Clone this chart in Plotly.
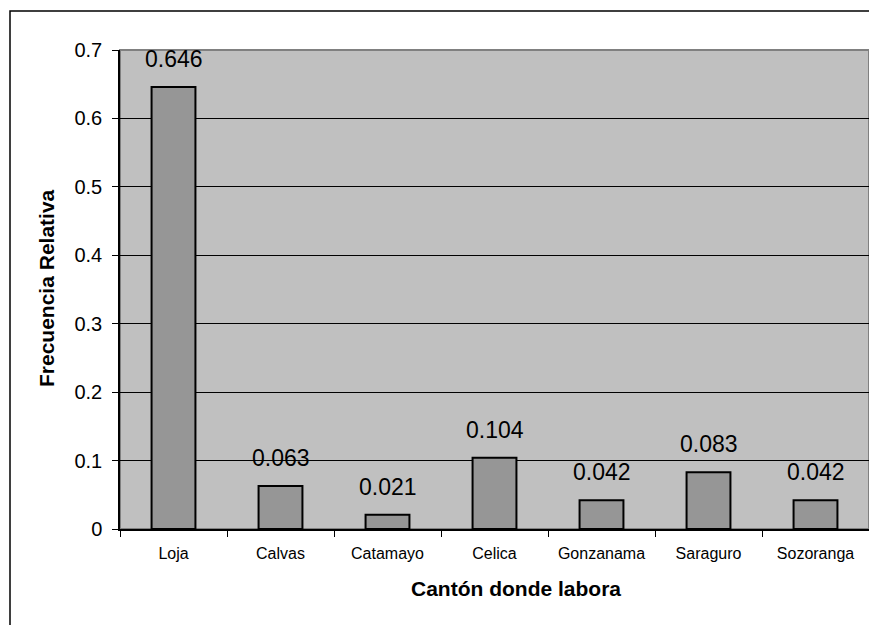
import plotly.graph_objects as go

categories = ["Loja", "Calvas", "Catamayo", "Celica", "Gonzanama", "Saraguro", "Sozoranga"]
values = [0.646, 0.063, 0.021, 0.104, 0.042, 0.083, 0.042]
value_labels = ["0.646", "0.063", "0.021", "0.104", "0.042", "0.083", "0.042"]
y_ticks = [0, 0.1, 0.2, 0.3, 0.4, 0.5, 0.6, 0.7]
y_tick_text = ["0", "0.1", "0.2", "0.3", "0.4", "0.5", "0.6", "0.7"]

FONT = "Liberation Sans, Arial, sans-serif"

# page is offset by the 8px body margin; figure geometry compensates
W, H = 869, 617
L, R, T, B = 112, 8, 42, 96
PW, PH = W - L - R, H - T - B

def px(x):  # figure pixel x -> paper
    return (x - L) / PW

def py(y):  # figure pixel y -> paper
    return (H - B - y) / PH

fig = go.Figure()
fig.add_trace(go.Bar(
    x=categories, y=values,
    marker=dict(color="#969696", line=dict(color="black", width=2)),
    width=0.41,
    hoverinfo="skip",
))

for c, v, t in zip(categories, values, value_labels):
    fig.add_annotation(x=c, y=v, text=t, showarrow=False, yanchor="bottom",
                       yshift=13, font=dict(family=FONT, size=23, color="black"))

# plot area border (gray top/right)
fig.add_shape(type="rect", xref="paper", yref="paper", x0=0, x1=1, y0=0, y1=1,
              line=dict(color="#808080", width=2), layer="below")
# outer chart frame
fig.add_shape(type="rect", xref="paper", yref="paper",
              x0=px(2), x1=1.3, y0=-0.5, y1=py(3),
              line=dict(color="black", width=1.5))

# axis titles
fig.add_annotation(xref="paper", yref="paper", x=px(38), y=py(280),
                   text="<b>Frecuencia Relativa</b>", textangle=-90, showarrow=False,
                   xanchor="center", yanchor="middle",
                   font=dict(family=FONT, size=21, color="black"))
fig.add_annotation(xref="paper", yref="paper", x=px(508), y=py(580),
                   text="<b>Cantón donde labora</b>", showarrow=False,
                   xanchor="center", yanchor="middle",
                   font=dict(family=FONT, size=21, color="black"))

fig.update_layout(
    width=W, height=H,
    margin=dict(l=L, r=R, t=T, b=B),
    paper_bgcolor="white",
    plot_bgcolor="#C0C0C0",
    showlegend=False,
    font=dict(family=FONT, color="black"),
    xaxis=dict(
        type="category", tickson="boundaries", ticks="outside", ticklen=6,
        tickcolor="black", tickwidth=1,
        showline=True, linecolor="black", linewidth=1.5,
        showgrid=False, tickfont=dict(size=16, family=FONT),
        ticklabelstandoff=9,
    ),
    yaxis=dict(
        range=[0, 0.7], tickvals=y_ticks, ticktext=y_tick_text,
        ticks="outside", ticklen=6, tickcolor="black", tickwidth=1,
        showline=True, linecolor="black", linewidth=1.5,
        showgrid=True, gridcolor="black", gridwidth=1,
        zeroline=False,
        tickfont=dict(size=20, family=FONT),
        ticklabelstandoff=6,
    ),
)

fig.write_html("out.html")
